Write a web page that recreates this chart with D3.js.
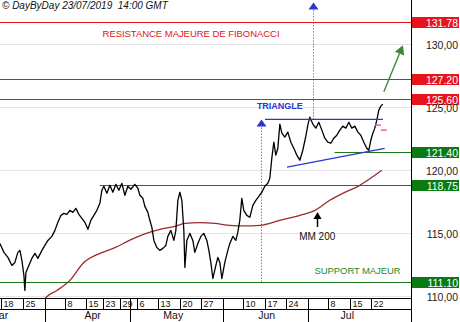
<!DOCTYPE html>
<html><head><meta charset="utf-8">
<script src="https://cdn.jsdelivr.net/npm/d3@7"></script>
<style>
body{margin:0;background:#fff;}
svg{display:block;font-family:"Liberation Sans",Arial,sans-serif;}
</style>
</head><body>
<svg id="c" width="460" height="322"></svg>
<script>
// ---------- DATA ----------
const headerText = "\u00A9 DayByDay 23/07/2019  14:00 GMT";
const holidays = ["2019-04-19","2019-04-22","2019-05-01"];
const firstDay = "2019-03-18";
const dayTicks = ["2019-03-18","2019-03-25","2019-04-08","2019-04-15","2019-04-23","2019-04-29",
  "2019-05-06","2019-05-13","2019-05-20","2019-05-27","2019-06-10","2019-06-17","2019-06-24",
  "2019-07-08","2019-07-15","2019-07-22"];
const monthStarts = ["2019-04-01","2019-05-02","2019-06-03","2019-07-01"];
const monthNames = ["Mar","Apr","May","Jun","Jul"];
const monthLabelDates = ["2019-03-15","2019-04-16","2019-05-16","2019-06-17","2019-07-12"];
const yTicks = [110,115,120,125,130];

// price path: trading-day index (0 = 18 Mar 2019) and price
const priceT = [-0.82,0.12,1.06,2.0,2.71,3.41,3.89,4.36,4.83,5.06,5.30,6.00,6.71,7.42,8.12,9.07,9.77,10.48,11.42,12.13,
  12.83,13.54,14.25,14.95,15.66,16.36,17.07,17.78,18.48,19.19,19.90,20.60,21.31,22.02,22.72,23.19,23.66,24.37,25.08,25.78,
  26.49,27.20,27.90,28.61,29.31,30.02,30.96,31.67,32.14,32.85,33.32,34.02,34.49,34.97,35.44,36.14,36.85,37.56,38.26,38.73,
  39.44,40.15,40.62,41.09,41.56,42.03,42.50,42.74,43.21,43.91,44.62,45.09,45.80,46.50,47.21,47.92,48.39,48.86,49.33,50.04,
  50.51,50.98,51.45,52.15,52.86,53.33,54.04,54.74,55.21,55.68,56.15,56.62,57.33,58.04,58.75,59.45,60.16,60.87,61.57,62.28,
  62.75,63.22,63.69,64.16,64.64,65.11,65.58,66.28,66.99,67.70,68.40,69.11,69.82,70.52,71.23,71.70,72.17,72.88,73.58,74.29,
  75.00,75.70,76.41,77.12,77.82,78.53,79.24,79.94,80.65,81.36,82.06,82.77,83.48,84.18,84.89,85.59,86.06,86.54,87.01,87.48,
  87.95,88.42,88.89,89.36];
const priceV = [114.14,113.43,113.03,112.39,112.63,113.43,113.59,112.79,111.59,110.40,111.83,112.39,112.95,113.35,112.95,113.59,113.98,114.38,114.70,115.18,
  115.82,116.37,116.53,116.45,116.77,116.61,116.93,116.45,116.14,115.82,115.26,115.98,116.37,116.77,117.33,118.37,118.69,118.13,118.76,118.21,
  118.84,118.37,118.92,117.97,118.69,118.45,118.84,118.53,117.97,117.73,117.09,116.61,115.98,115.42,114.38,113.82,113.59,113.75,113.98,114.70,
  115.18,114.38,115.18,117.57,118.21,117.57,115.18,112.23,114.38,114.94,114.38,113.43,114.14,114.70,114.94,114.38,113.59,112.63,111.35,112.39,
  113.03,112.63,111.35,112.63,113.59,114.14,114.70,114.38,115.02,115.98,117.73,116.77,116.37,116.22,117.17,117.57,117.89,118.21,118.69,118.92,
  119.32,120.92,122.19,121.16,121.71,123.63,122.91,122.59,122.99,122.19,121.71,121.16,120.76,121.55,122.67,123.55,124.18,123.63,123.31,123.78,
  123.15,122.51,122.19,122.11,122.51,122.75,123.15,123.47,123.31,123.78,123.31,123.47,122.99,122.75,122.19,121.71,121.55,122.35,122.91,123.31,
  123.94,124.74,125.06,125.22];

// 200-period moving average
const maT = [9.4,10.01,12.60,15.66,18.72,22.72,26.25,29.78,33.32,36.85,40.38,42.74,46.27,49.80,53.33,56.86,60.40,65.11,69.82,73.35,76.88,80.41,83.94,87.48,89.12];
const maV = [109.5,109.84,110.4,111.2,112.55,113.35,113.8,114.4,114.9,115.26,115.5,115.74,115.8,115.74,115.58,115.54,115.58,115.98,116.37,116.77,117.57,118.2,118.76,119.56,119.96];

// horizontal levels
const levelValues = [131.78,127.20,125.60,121.40,118.75,111.10];
const levelLabels = ["131.78","127.20","125.60","121.40","118.75","111.10"];
const levelKinds  = ["res","res","res","sup","sup","sup"];
const levelStartT = [null,null,null,78.0,22.7,null];

// triangle
const triUpperT = [61.6,89.4], triUpperV = [124.0,124.0];
const triLowerT = [66.8,89.8], triLowerV = [120.2,121.7];
// projections (measured objective)
const proj1T = 60.6, proj1V = [111.1,124.0];
const proj2T = 72.9, proj2V = [124.0,133.3];
// markers near last price
const pinkT = [88.2,89.6], pinkV = [123.55,123.15];
// green target arrow
const targetT = [89.6,94.1], targetV = [126.2,129.9];
// MM 200 arrow
const mmArrowT = 73.8, mmArrowV = [115.45,116.65];

// ---------- LAYOUT ----------
const W = 460, H = 322, plotR = 411, plotB = 298, rowB = 309;
const svg = d3.select("#c");

const parse = d3.utcParse("%Y-%m-%d"), fmt = d3.utcFormat("%Y-%m-%d");
const days = d3.utcDays(parse("2019-03-01"), parse("2019-08-01"))
  .filter(d => d.getUTCDay() !== 0 && d.getUTCDay() !== 6 && !holidays.includes(fmt(d)))
  .map(fmt);
const base = days.indexOf(firstDay);
const tOf = s => days.indexOf(s) - base;

const x = d3.scaleLinear().domain([-0.8, 96]).range([0, plotR]);
const y = d3.scaleLinear().domain([110, 130]).range([295.5, 44]);

svg.append("defs").append("clipPath").attr("id","pc")
  .append("rect").attr("x",0).attr("y",0).attr("width",plotR).attr("height",plotB);

svg.append("g").selectAll("line").data(yTicks).join("line")
  .attr("x1",0).attr("x2",plotR).attr("y1",d=>Math.round(y(d))+0.5).attr("y2",d=>Math.round(y(d))+0.5)
  .attr("stroke","#e4e4e4").attr("stroke-width",1);

const lv = svg.append("g");
levelValues.forEach((v,i)=>{
  const col = levelKinds[i]==="res" ? "#e8141c" : "#1c7a1c";
  lv.append("line").attr("x1", levelStartT[i]===null ? 0 : x(levelStartT[i])).attr("x2",plotR)
    .attr("y1",Math.round(y(v))+0.5).attr("y2",Math.round(y(v))+0.5)
    .attr("stroke",col).attr("stroke-width",1.2);
});

const g = svg.append("g").attr("clip-path","url(#pc)");
g.append("path").datum(maT.map((t,i)=>[t,maV[i]]))
  .attr("d", d3.line().x(d=>x(d[0])).y(d=>y(d[1])).curve(d3.curveMonotoneX))
  .attr("fill","none").attr("stroke","#9b2b2b").attr("stroke-width",1.3);

g.append("path").datum(priceT.map((t,i)=>[t,priceV[i]]))
  .attr("d", d3.line().x(d=>x(d[0])).y(d=>y(d[1])))
  .attr("fill","none").attr("stroke","#000").attr("stroke-width",1.3).attr("stroke-linejoin","round");

const blue = "#2a36d0";
g.append("line").attr("x1",x(triUpperT[0])).attr("x2",x(triUpperT[1])).attr("y1",y(triUpperV[0])).attr("y2",y(triUpperV[1]))
  .attr("stroke",blue).attr("stroke-width",1.3);
g.append("line").attr("x1",x(triLowerT[0])).attr("x2",x(triLowerT[1])).attr("y1",y(triLowerV[0])).attr("y2",y(triLowerV[1]))
  .attr("stroke",blue).attr("stroke-width",1.3);

function proj(t, vals){
  const px = Math.round(x(t))+0.5, top = y(vals[1]);
  g.append("line").attr("x1",px).attr("x2",px).attr("y1",y(vals[0])).attr("y2",top+7)
    .attr("stroke",blue).attr("stroke-width",1).attr("stroke-dasharray","1,2");
  g.append("path").attr("d",`M${px},${top} L${px-5},${top+7} L${px+5},${top+7} Z`).attr("fill",blue);
}
proj(proj1T, proj1V);
proj(proj2T, proj2V);

pinkT.forEach((t,i)=>{
  g.append("line").attr("x1",x(t)-3).attr("x2",x(t)+3).attr("y1",y(pinkV[i])).attr("y2",y(pinkV[i]))
   .attr("stroke","#e060c0").attr("stroke-width",1.5);
});

{
  const x1=x(targetT[0]), y1=y(targetV[0]), x2=x(targetT[1]), y2=y(targetV[1]);
  const a = Math.atan2(y2-y1, x2-x1), L=9, w=5;
  const bx = x2 - L*Math.cos(a), by = y2 - L*Math.sin(a);
  svg.append("line").attr("x1",x1).attr("y1",y1).attr("x2",bx).attr("y2",by).attr("stroke","#3a8a3a").attr("stroke-width",1.4);
  svg.append("path").attr("d",`M${x2},${y2} L${bx+w*Math.sin(a)},${by-w*Math.cos(a)} L${bx-w*Math.sin(a)},${by+w*Math.cos(a)} Z`).attr("fill","#3a8a3a");
}
{
  const px = Math.round(x(mmArrowT))+0.5, yb=y(mmArrowV[0]), yt=y(mmArrowV[1]);
  svg.append("line").attr("x1",px).attr("x2",px).attr("y1",yb).attr("y2",yt+6).attr("stroke","#000").attr("stroke-width",1.5);
  svg.append("path").attr("d",`M${px},${yt} L${px-4},${yt+7} L${px+4},${yt+7} Z`).attr("fill","#000");
}

svg.append("text").attr("x",2).attr("y",9).attr("font-size",10).attr("font-style","italic").attr("fill","#111")
  .style("white-space","pre").text(headerText);
svg.append("text").attr("x",x(44.2)).attr("y",y(130.8)).attr("text-anchor","middle").attr("dominant-baseline","central")
  .attr("font-size",9.5).attr("fill","#e0141c").attr("textLength",177).attr("lengthAdjust","spacing")
  .text("RESISTANCE MAJEURE DE FIBONACCI");
svg.append("text").attr("x",x(59.7)).attr("y",y(125.06)).attr("dominant-baseline","central")
  .attr("font-size",9).attr("font-weight","bold").attr("fill",blue).attr("textLength",46).attr("lengthAdjust","spacing")
  .text("TRIANGLE");
svg.append("text").attr("x",x(73.8)+0.5).attr("y",y(114.7)).attr("text-anchor","middle").attr("dominant-baseline","central")
  .attr("font-size",10).attr("fill","#111").text("MM 200");
svg.append("text").attr("x",x(73.3)).attr("y",y(112.0)).attr("dominant-baseline","central")
  .attr("font-size",9.5).attr("fill","#2a8a2a").attr("textLength",86).attr("lengthAdjust","spacing")
  .text("SUPPORT MAJEUR");

svg.append("line").attr("x1",plotR+0.5).attr("x2",plotR+0.5).attr("y1",0).attr("y2",H).attr("stroke","#000");
levelValues.forEach((v,i)=>{
  const col = levelKinds[i]==="res" ? "#e8141c" : "#0b7a10";
  const cy = Math.round(y(v));
  svg.append("rect").attr("x",plotR+1).attr("y",cy-5).attr("width",W-plotR-2).attr("height",11).attr("fill",col);
  svg.append("text").attr("x",458).attr("y",cy+0.5).attr("text-anchor","end").attr("dominant-baseline","central")
    .attr("font-size",10.5).attr("fill","#fff").text(levelLabels[i]);
});
svg.append("g").selectAll("text").data(yTicks).join("text")
  .attr("x",458).attr("y",d=>y(d)+1).attr("text-anchor","end").attr("dominant-baseline","central")
  .attr("font-size",10.5).attr("fill","#222").text(d=>d3.format(".2f")(d).replace(".",","));

const ax = svg.append("g");
ax.append("rect").attr("x",0).attr("y",plotB).attr("width",plotR).attr("height",H-plotB).attr("fill","#fff");
ax.append("line").attr("x1",0).attr("x2",plotR).attr("y1",plotB+0.5).attr("y2",plotB+0.5).attr("stroke","#000");
ax.append("line").attr("x1",0).attr("x2",plotR).attr("y1",rowB+0.5).attr("y2",rowB+0.5).attr("stroke","#000");
dayTicks.forEach(s=>{
  const px = Math.round(x(tOf(s)))-1.5;
  ax.append("line").attr("x1",px).attr("x2",px).attr("y1",plotB).attr("y2",rowB).attr("stroke","#000");
  ax.append("text").attr("x",px+2).attr("y",rowB-2.5).attr("font-size",9).attr("fill","#111").text(+s.slice(8));
});
monthStarts.forEach(s=>{
  const px = Math.round(x(tOf(s)))-0.5;
  ax.append("line").attr("x1",px).attr("x2",px).attr("y1",plotB).attr("y2",H).attr("stroke","#000");
});
monthNames.forEach((m,i)=>{
  ax.append("text").attr("x",x(tOf(monthLabelDates[i]))).attr("y",319).attr("text-anchor","middle")
    .attr("font-size",10.5).attr("fill","#111").text(m);
});
</script>
</body></html>
